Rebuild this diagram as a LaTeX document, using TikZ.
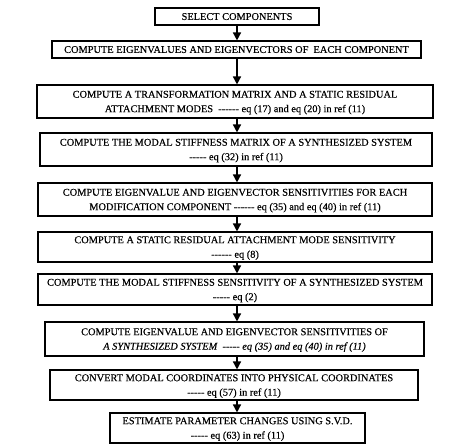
\documentclass[tikz,border=0pt]{standalone}
\usepackage{fontspec}
\setmainfont{Liberation Serif}
\newfontfamily\boxfont{Liberation Serif}[FakeBold=0.3]
\usetikzlibrary{arrows.meta}
\begin{document}
\begin{tikzpicture}[x=1bp,y=-1bp,
  stepbox/.style={draw, line width=1.1bp, inner sep=0pt, align=center,
    font=\fontsize{10.4}{14.5}\selectfont\boxfont, text depth=0pt},
  flow/.style={line width=1.5bp, -{Triangle[length=8bp,width=8bp]}}]
\useasboundingbox (0,0) rectangle (471,446);
\node[stepbox, minimum width=164bp, minimum height=17bp] (b1) at (237,16.5) {SELECT COMPONENTS};
\node[stepbox, minimum width=369bp, minimum height=17bp] (b2) at (236.5,49.5) {COMPUTE EIGENVALUES AND EIGENVECTORS OF\ \ EACH COMPONENT};
\node[stepbox, minimum width=396bp, minimum height=33bp] (b3) at (235,101.5) {COMPUTE A TRANSFORMATION MATRIX AND A STATIC RESIDUAL\\ATTACHMENT MODES\ \ ---{}--- eq (17) and eq (20) in ref (11)};
\node[stepbox, minimum width=392bp, minimum height=33bp] (b4) at (236,149.5) {COMPUTE THE MODAL STIFFNESS MATRIX OF A SYNTHESIZED SYSTEM\\-{}-{}-{}-{}- eq (32) in ref (11)};
\node[stepbox, minimum width=394bp, minimum height=33bp] (b5) at (235,199.5) {COMPUTE EIGENVALUE AND EIGENVECTOR SENSITIVITIES FOR EACH\\MODIFICATION COMPONENT ---{}--- eq (35) and eq (40) in ref (11)};
\node[stepbox, minimum width=394bp, minimum height=30bp] (b6) at (235,247) {COMPUTE A STATIC RESIDUAL ATTACHMENT MODE SENSITIVITY\\---{}--- eq (8)};
\node[stepbox, minimum width=394bp, minimum height=31bp] (b7) at (235,289.5) {COMPUTE THE MODAL STIFFNESS SENSITIVITY OF A SYNTHESIZED SYSTEM\\-{}-{}-{}-{}- eq (2)};
\node[stepbox, minimum width=379bp, minimum height=34bp] (b8) at (234.5,339) {COMPUTE EIGENVALUE AND EIGENVECTOR SENSITIVITIES OF\\\textit{A SYNTHESIZED SYSTEM\ \ -{}-{}-{}-{}- eq (35) and eq (40) in ref (11)}};
\node[stepbox, minimum width=368bp, minimum height=30bp] (b9) at (234,385) {CONVERT MODAL COORDINATES INTO PHYSICAL COORDINATES\\-{}-{}-{}-{}- eq (57) in ref (11)};
\node[stepbox, minimum width=255bp, minimum height=30bp] (b10) at (237.5,428) {ESTIMATE PARAMETER CHANGES USING S.V.D.\\-{}-{}-{}-{}- eq (63) in ref (11)};
\foreach \a/\b in {b1/b2,b2/b3,b3/b4,b4/b5,b5/b6,b6/b7,b7/b8,b8/b9,b9/b10}
  \draw[flow] (\a.south -| b1.south) -- (\b.north -| b1.south);
\end{tikzpicture}
\end{document}
